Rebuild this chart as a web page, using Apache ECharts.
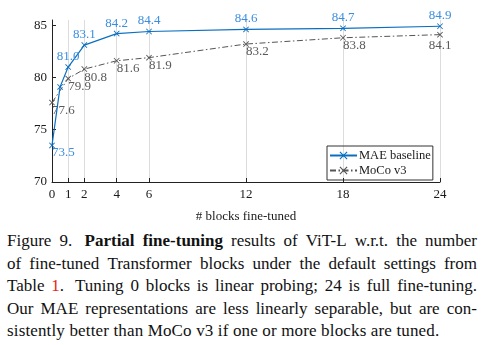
<!DOCTYPE html>
<html><head><meta charset="utf-8">
<script src="https://cdn.jsdelivr.net/npm/echarts@6/dist/echarts.min.js"></script>
<style>
html,body{margin:0;padding:0;background:#fff;}
#chart{position:absolute;left:0;top:0;width:488px;height:228px;}
#cap{position:absolute;left:7px;top:230px;width:470px;font-family:"Liberation Serif",serif;font-size:17px;line-height:22.5px;color:#111;}
#cap .j{display:flex;justify-content:space-between;white-space:nowrap;}
#cap .l{white-space:nowrap;letter-spacing:0.15px;}
#cap .r{color:#e8201a;}
</style></head>
<body>
<div id="chart"></div>
<div id="cap">
<div class="j"><span>Figure</span><span>9.</span><span>&nbsp;<b>Partial</b></span><b>fine-tuning</b><span>results</span><span>of</span><span>ViT-L</span><span>w.r.t.</span><span>the</span><span>number</span></div>
<div class="j"><span>of</span><span>fine-tuned</span><span>Transformer</span><span>blocks</span><span>under</span><span>the</span><span>default</span><span>settings</span><span>from</span></div>
<div class="j"><span>Table</span><span><span class="r">1</span>.</span><span>&nbsp;Tuning</span><span>0</span><span>blocks</span><span>is</span><span>linear</span><span>probing;</span><span>24</span><span>is</span><span>full</span><span>fine-tuning.</span></div>
<div class="j"><span>Our</span><span>MAE</span><span>representations</span><span>are</span><span>less</span><span>linearly</span><span>separable,</span><span>but</span><span>are</span><span>con-</span></div>
<div class="l">sistently better than MoCo v3 if one or more blocks are tuned.</div>
</div>
<script>
// ---- data ----
const xTicks = [0, 1, 2, 4, 6, 12, 18, 24];
const yTicks = [70, 75, 80, 85];
const maeX = [0, 0.5, 1, 2, 4, 6, 12, 18, 24];
const maeY = [73.5, 79.1, 81.0, 83.1, 84.2, 84.4, 84.6, 84.7, 84.9];
const maeShowLabel = [true, false, true, true, true, true, true, true, true];
const mocoX = [0, 1, 2, 4, 6, 12, 18, 24];
const mocoY = [77.6, 79.9, 80.8, 81.6, 81.9, 83.2, 83.8, 84.1];
const seriesNames = ['MAE baseline', 'MoCo v3'];
const xAxisName = '# blocks fine-tuned';

// ---- styles ----
const FONT = '"Liberation Serif", "Times New Roman", serif';
const BLUE = '#0b6fc0';
const BLUE_TXT = '#3a8ee0';
const GRAY = '#555555';
const GRAY_TXT = '#5a5a5a';
const XSYM = 'path://M0,1L1,0L5,4L9,0L10,1L6,5L10,9L9,10L5,6L1,10L0,9L4,5Z';

const maeData = maeX.map((x, i) => {
  const d = { value: [x, maeY[i]] };
  if (!maeShowLabel[i]) d.label = { show: false };
  else if (i === 0) d.label = { position: 'right', distance: 0, offset: [-3, 7] };
  return d;
});
const mocoData = mocoX.map((x, i) => {
  const d = { value: [x, mocoY[i]] };
  if (i === mocoX.length - 1) d.label = { position: 'bottom', distance: 1, offset: [0, 0] };
  return d;
});

const chart = echarts.init(document.getElementById('chart'), null, { renderer: 'canvas' });
chart.setOption({
  animation: false,
  backgroundColor: '#fff',
  textStyle: { fontFamily: FONT },
  grid: { left: 52, right: 48, top: 20, bottom: 45 },
  legend: {
    orient: 'vertical',
    left: 327, top: 146,
    padding: [3, 2, 3, 2],
    itemGap: 2,
    itemWidth: 27, itemHeight: 10,
    borderColor: '#333', borderWidth: 1,
    textStyle: { fontFamily: FONT, fontSize: 12.5, color: '#1a1a1a', padding: [0, 0, 0, -3] },
    data: seriesNames
  },
  xAxis: {
    type: 'value', min: 0, max: 24,
    name: xAxisName, nameLocation: 'middle', nameGap: 28,
    nameTextStyle: { fontFamily: FONT, fontSize: 13, color: '#1a1a1a' },
    axisLine: { show: true, lineStyle: { color: '#222', width: 1 } },
    axisTick: { show: true, inside: true, length: 4, customValues: xTicks, lineStyle: { color: '#222' } },
    axisLabel: { customValues: xTicks, fontFamily: FONT, fontSize: 13, color: '#1a1a1a', margin: 6 },
    splitLine: { show: true, lineStyle: { color: '#dcdcdc', width: 1 } }
  },
  yAxis: {
    type: 'value', min: 70, max: 85.5,
    axisLine: { show: true, lineStyle: { color: '#222', width: 1 } },
    axisTick: { show: true, inside: true, length: 4, customValues: yTicks, lineStyle: { color: '#222' } },
    axisLabel: { customValues: yTicks, fontFamily: FONT, fontSize: 13, color: '#1a1a1a', margin: 5 },
    splitLine: { show: false }
  },
  series: [
    {
      name: seriesNames[0], type: 'line', data: maeData,
      symbol: XSYM, symbolSize: 6,
      lineStyle: { color: BLUE, width: 1.2 },
      itemStyle: { color: BLUE },
      label: { show: true, position: 'top', distance: 1, fontFamily: FONT, fontSize: 13, color: BLUE_TXT,
        formatter: p => p.value[1].toFixed(1) },
      z: 3
    },
    {
      name: seriesNames[1], type: 'line', data: mocoData,
      symbol: XSYM, symbolSize: 6,
      lineStyle: { color: GRAY, width: 1, type: [6, 2.5, 1.5, 2.5] },
      itemStyle: { color: GRAY },
      label: { show: true, position: 'right', distance: 0, offset: [-3, 8], fontFamily: FONT, fontSize: 13, color: GRAY_TXT,
        formatter: p => p.value[1].toFixed(1) },
      z: 2
    }
  ]
});
</script>
</body></html>
